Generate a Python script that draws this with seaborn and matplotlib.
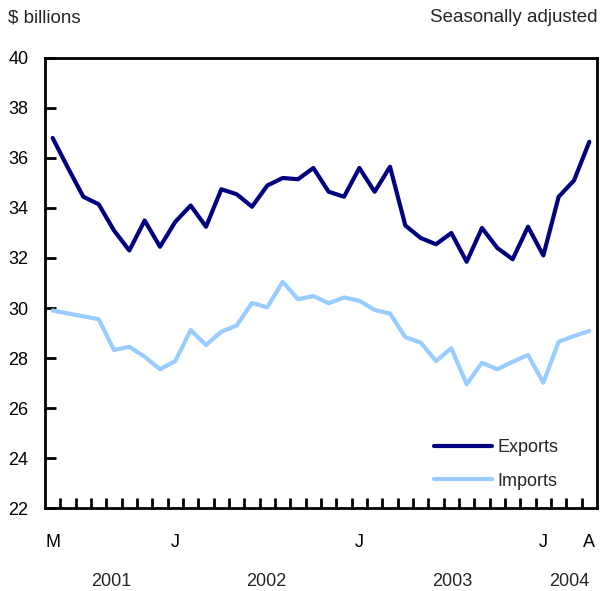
import numpy as np
import pandas as pd
import matplotlib
matplotlib.use("Agg")
import matplotlib.pyplot as plt
import seaborn as sns

# Monthly data, May 2001 to April 2004 ($ billions, seasonally adjusted)
months = pd.date_range("2001-05-01", "2004-04-01", freq="MS")
exports = [36.8, 35.6, 34.45, 34.15, 33.1, 32.3, 33.5, 32.45, 33.45, 34.1, 33.25, 34.75,
           34.55, 34.05, 34.9, 35.2, 35.15, 35.6, 34.65, 34.45, 35.6, 34.65, 35.65, 33.3,
           32.8, 32.55, 33.0, 31.85, 33.2, 32.4, 31.95, 33.25, 32.1, 34.45, 35.1, 36.65]
imports = [29.9, 29.78, 29.67, 29.55, 28.32, 28.45, 28.05, 27.55, 27.88, 29.12, 28.52, 29.05,
           29.3, 30.2, 30.03, 31.05, 30.35, 30.48, 30.19, 30.42, 30.29, 29.92, 29.78, 28.83,
           28.62, 27.88, 28.39, 26.95, 27.81, 27.55, 27.85, 28.12, 27.01, 28.65, 28.88, 29.08]
month_labels = {0: "M", 8: "J", 20: "J", 32: "J", 35: "A"}
year_labels = ["2001", "2002", "2003", "2004"]
year_pos = [3.85, 13.95, 26.05, 33.7]

df = pd.DataFrame({
    "idx": np.tile(np.arange(len(months)), 2),
    "value": exports + imports,
    "series": ["Exports"] * len(exports) + ["Imports"] * len(imports),
})

sns.set_style("ticks")
plt.rcParams['font.family'] = ['Liberation Sans', 'DejaVu Sans']

fig = plt.figure(figsize=(6, 5.91), dpi=100)
ax = fig.add_axes([0.075, 0.1404, 0.92, 0.7615])

sns.lineplot(data=df, x="idx", y="value", hue="series",
             palette={"Exports": "#000080", "Imports": "#99ccff"},
             linewidth=3, ax=ax, legend=True)

ax.set_xlim(-0.5, 35.5)
ax.set_ylim(22, 40)
ax.set_yticks(range(22, 41, 2))
ax.set_xlabel("")
ax.set_ylabel("")

for side in ["left", "right", "top", "bottom"]:
    ax.spines[side].set_visible(True)
    ax.spines[side].set_linewidth(2)
    ax.spines[side].set_color("black")

ax.tick_params(axis="y", direction="in", length=8, width=2, pad=12,
               labelsize=13, color="black", labelcolor="black")
ax.set_xticks(list(month_labels.keys()))
ax.set_xticklabels(list(month_labels.values()))
ax.set_xticks(np.arange(0.5, 35, 1), minor=True)
ax.tick_params(axis="x", which="major", length=0, pad=19, labelsize=13, labelcolor="black")
ax.tick_params(axis="x", which="minor", direction="in", length=7, width=2, color="black")

for lab, pos in zip(year_labels, year_pos):
    ax.text(pos, -0.163, lab, transform=ax.get_xaxis_transform(),
            ha="center", va="center", fontsize=13)

fig.text(0.013, 0.97, "$ billions", ha="left", va="center", fontsize=13.5)
fig.text(0.995, 0.97, "Seasonally adjusted", ha="right", va="center", fontsize=13.5)

leg = ax.legend(loc="lower right", bbox_to_anchor=(0.96, 0.005), frameon=False,
                fontsize=13, handlelength=3.2, handletextpad=0.3, labelspacing=0.9)
for line in leg.get_lines():
    line.set_linewidth(3)

fig.savefig("out.png", dpi=100)
